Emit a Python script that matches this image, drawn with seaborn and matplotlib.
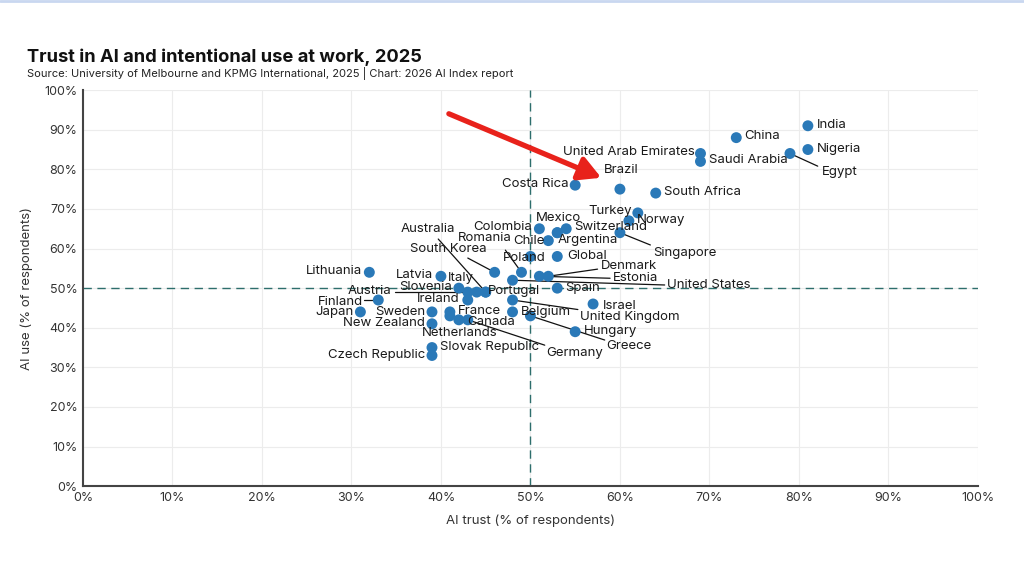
import pandas as pd
import matplotlib.pyplot as plt
import matplotlib.ticker as mticker
import seaborn as sns

# Datos: confianza en IA (x) y uso de IA (y), % de encuestados
paises = [
    "India", "Nigeria", "Egypt", "China", "United Arab Emirates", "Saudi Arabia",
    "South Africa", "Brazil", "Costa Rica", "Turkey", "Norway", "Singapore",
    "Switzerland", "Mexico", "Argentina", "Colombia", "Chile", "Global", "Poland",
    "Romania", "South Korea", "United States", "Denmark", "Estonia", "Spain",
    "Lithuania", "Latvia", "Slovenia", "Austria", "Italy", "Australia", "Portugal",
    "Ireland", "Finland", "United Kingdom", "Israel", "Japan", "Sweden",
    "New Zealand", "France", "Netherlands", "Canada", "Germany", "Belgium",
    "Greece", "Hungary", "Slovak Republic", "Czech Republic",
]
confianza = [
    81, 81, 79, 73, 69, 69,
    64, 60, 55, 62, 61, 60,
    54, 53, 53, 51, 52, 53, 50,
    49, 46, 48, 52, 51, 53,
    32, 40, 42, 43, 44, 45, 45,
    43, 33, 48, 57, 31, 39,
    39, 41, 41, 42, 43, 48,
    50, 55, 39, 39,
]
uso = [
    91, 85, 84, 88, 84, 82,
    74, 75, 76, 69, 67, 64,
    65, 64, 64, 65, 62, 58, 58,
    54, 54, 52, 53, 53, 50,
    54, 53, 50, 49, 49, 49, 49,
    47, 47, 47, 46, 44, 44,
    41, 44, 43, 42, 42, 44,
    43, 39, 35, 33,
]

# Posicion de cada etiqueta (x, y, alineacion)
etiquetas = {
    "India": (82.0, 91.2, "left"),
    "Nigeria": (82.0, 85.1, "left"),
    "Egypt": (82.6, 79.3, "left"),
    "China": (73.9, 88.4, "left"),
    "United Arab Emirates": (68.4, 84.3, "right"),
    "Saudi Arabia": (69.9, 82.3, "left"),
    "South Africa": (64.9, 74.2, "left"),
    "Brazil": (58.2, 79.8, "left"),
    "Costa Rica": (54.3, 76.3, "right"),
    "Turkey": (61.3, 69.4, "right"),
    "Norway": (61.9, 67.2, "left"),
    "Singapore": (63.7, 58.8, "left"),
    "Switzerland": (54.9, 65.4, "left"),
    "Mexico": (53.1, 67.7, "center"),
    "Argentina": (53.0, 62.1, "left"),
    "Colombia": (50.2, 65.4, "right"),
    "Chile": (51.6, 61.9, "right"),
    "Global": (54.1, 58.1, "left"),
    "Poland": (46.9, 57.6, "left"),
    "Romania": (41.9, 62.6, "left"),
    "South Korea": (36.5, 59.8, "left"),
    "United States": (65.3, 50.8, "left"),
    "Denmark": (57.9, 55.6, "left"),
    "Estonia": (59.2, 52.6, "left"),
    "Spain": (53.9, 50.0, "left"),
    "Lithuania": (31.2, 54.3, "right"),
    "Latvia": (39.1, 53.3, "right"),
    "Slovenia": (41.2, 50.3, "right"),
    "Austria": (34.5, 49.4, "right"),
    "Italy": (40.8, 52.5, "left"),
    "Australia": (41.6, 64.9, "right"),
    "Portugal": (45.2, 49.3, "left"),
    "Ireland": (42.1, 47.2, "right"),
    "Finland": (31.3, 46.6, "right"),
    "United Kingdom": (55.5, 42.6, "left"),
    "Israel": (58.1, 45.5, "left"),
    "Japan": (30.3, 43.9, "right"),
    "Sweden": (38.2, 43.9, "right"),
    "New Zealand": (38.2, 41.2, "right"),
    "France": (41.9, 44.2, "left"),
    "Netherlands": (37.9, 38.6, "left"),
    "Canada": (42.9, 41.4, "left"),
    "Germany": (51.8, 33.6, "left"),
    "Belgium": (48.9, 43.9, "left"),
    "Greece": (58.5, 35.4, "left"),
    "Hungary": (56.0, 39.1, "left"),
    "Slovak Republic": (39.9, 35.1, "left"),
    "Czech Republic": (38.2, 33.1, "right"),
}

# Punto donde empieza la linea guia junto a la etiqueta
guias = {
    "Egypt": (82.1, 80.8),
    "Singapore": (63.4, 60.9),
    "Romania": (47.2, 59.6),
    "South Korea": (43.0, 57.6),
    "Australia": (39.7, 62.4),
    "United States": (65.0, 50.8),
    "Denmark": (57.5, 54.8),
    "Estonia": (58.9, 52.5),
    "Austria": (34.9, 49.0),
    "Finland": (31.4, 47.0),
    "United Kingdom": (55.3, 44.6),
    "Canada": (42.9, 41.6),
    "Germany": (51.6, 35.6),
    "Greece": (58.3, 36.9),
}

df = pd.DataFrame({"pais": paises, "confianza": confianza, "uso": uso})

sns.set_theme(style="whitegrid")
plt.rcParams["font.family"] = ["Inter", "DejaVu Sans"]

fig = plt.figure(figsize=(10.24, 5.74), dpi=100)
ax = fig.add_axes([0.081, 0.153, 0.874, 0.690])

# Lineas de referencia al 50%
ax.axvline(50, color="#2d6e6c", lw=1, ls=(0, (6, 4)), zorder=1)
ax.axhline(50, color="#2d6e6c", lw=1, ls=(0, (6, 4)), zorder=1)

sns.scatterplot(data=df, x="confianza", y="uso", color="#2a79b8", s=62,
                edgecolor="none", ax=ax, zorder=3)

# Etiquetas de los paises
for _, fila in df.iterrows():
    tx, ty, ha = etiquetas[fila["pais"]]
    ax.text(tx, ty, fila["pais"], ha=ha, va="center", fontsize=9.5,
            color="#1a1a1a", zorder=4)
    if fila["pais"] in guias:
        gx, gy = guias[fila["pais"]]
        ax.plot([fila["confianza"], gx], [fila["uso"], gy], color="#111111",
                lw=0.9, zorder=2)

# Flecha roja hacia Brasil
ax.annotate("", xy=(58.2, 77.6), xytext=(40.6, 94.3),
            arrowprops=dict(arrowstyle="-|>,head_length=1.1,head_width=0.6",
                            color="#e8221b", lw=3.8), zorder=5)

ax.set_xlim(0, 100)
ax.set_ylim(0, 100)
ax.set_xticks(range(0, 101, 10))
ax.set_yticks(range(0, 101, 10))
ax.xaxis.set_major_formatter(mticker.PercentFormatter(decimals=0))
ax.yaxis.set_major_formatter(mticker.PercentFormatter(decimals=0))
ax.tick_params(labelsize=9, colors="#333333", length=0, pad=4)
ax.grid(color="#ececec", lw=0.8)
ax.set_facecolor("white")
for lado in ["top", "right"]:
    ax.spines[lado].set_visible(False)
for lado in ["left", "bottom"]:
    ax.spines[lado].set_visible(True)
    ax.spines[lado].set_color("#444444")
    ax.spines[lado].set_linewidth(1.5)

ax.set_xlabel("AI trust (% of respondents)", fontsize=9.5, color="#333333", labelpad=8)
ax.set_ylabel("AI use (% of respondents)", fontsize=9.5, color="#333333", labelpad=8)

fig.text(0.026, 0.90, "Trust in AI and intentional use at work, 2025",
         fontsize=13.2, fontweight="bold", color="#111111", va="center")
fig.text(0.026, 0.872, "Source: University of Melbourne and KPMG International, 2025 | Chart: 2026 AI Index report",
         fontsize=8.0, color="#222222", va="center")

# Linea fina azul en el borde superior
fig.add_artist(plt.Line2D([0, 1], [0.998, 0.998], color="#c9d7f0", lw=2,
                          transform=fig.transFigure))

fig.savefig("out.png", dpi=100, facecolor="white")
